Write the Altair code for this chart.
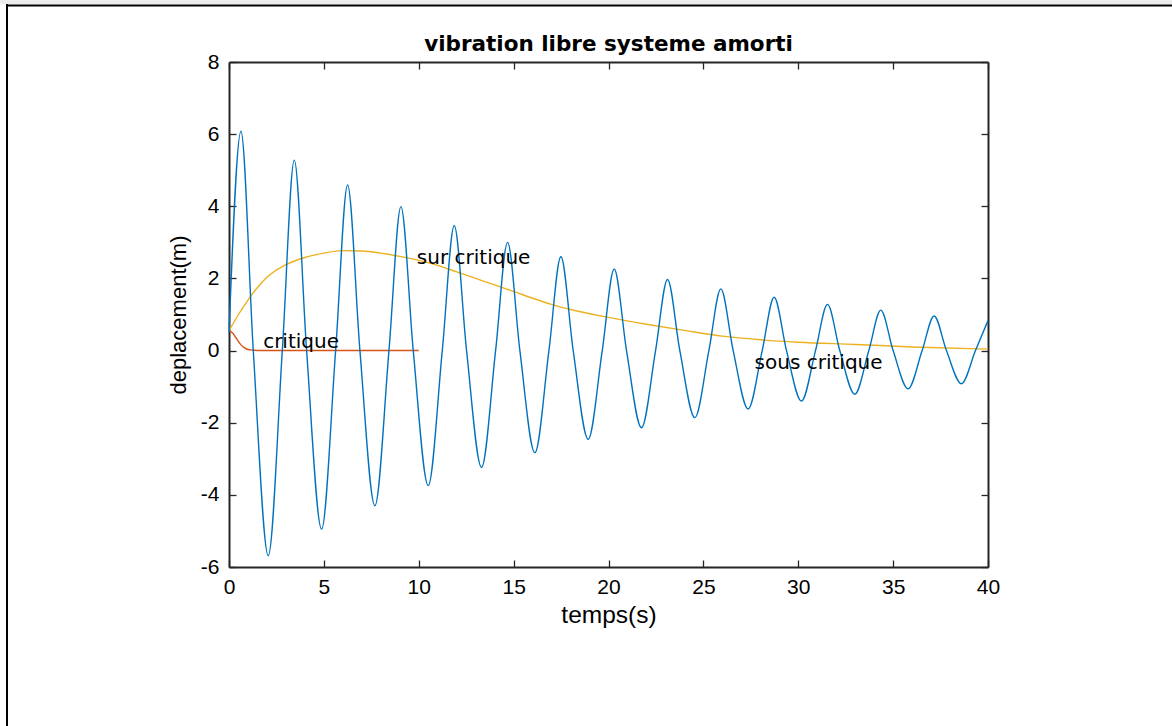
import altair as alt
import pandas as pd

# ---- data ----
# "sous critique" (under-damped): start, peaks, zero crossings, troughs, end
start_t, start_y = 0.0, 0.5
peak_t = [0.63, 3.44, 6.25, 9.06, 11.87, 14.68, 17.49, 20.30, 23.11, 25.92, 28.73, 31.54, 34.35, 37.16]
peak_y = [6.08, 5.28, 4.59, 3.99, 3.46, 3.00, 2.60, 2.26, 1.97, 1.71, 1.48, 1.28, 1.12, 0.96]
down_t = [1.28, 4.09, 6.90, 9.71, 12.52, 15.33, 18.14, 20.95, 23.76, 26.57, 29.38, 32.19, 35.00, 37.81]
trough_t = [2.07, 4.88, 7.69, 10.50, 13.31, 16.12, 18.93, 21.74, 24.55, 27.36, 30.17, 32.98, 35.79, 38.60]
trough_y = [-5.69, -4.95, -4.30, -3.74, -3.24, -2.83, -2.46, -2.14, -1.86, -1.62, -1.40, -1.21, -1.06, -0.92]
up_t = [2.81, 5.62, 8.43, 11.24, 14.05, 16.86, 19.67, 22.48, 25.29, 28.10, 30.91, 33.72, 36.53, 39.34]
end_t, end_y = 40.0, 0.83

# "sur critique" (over-damped)
sur_t = [0, 0.5, 1.0, 1.5, 2.0, 3.0, 4.0, 5.0, 6.0, 7.0, 8.0, 9.0, 10.0, 11.0, 12.0, 13.0,
         14.0, 15.0, 16.0, 17.0, 18.0, 20.0, 22.0, 24.0, 26.0, 28.0, 30.0, 33.0, 36.0, 40.0]
sur_y = [0.55, 1.0, 1.4, 1.75, 2.03, 2.38, 2.58, 2.70, 2.77, 2.76, 2.70, 2.61, 2.50, 2.36,
         2.18, 2.00, 1.82, 1.64, 1.45, 1.28, 1.14, 0.92, 0.73, 0.56, 0.40, 0.30, 0.23, 0.17,
         0.10, 0.04]

# "critique"
crit_t = [0, 0.2, 0.4, 0.6, 0.8, 1.0, 1.3, 1.7, 10.0]
crit_y = [0.55, 0.48, 0.33, 0.18, 0.08, 0.03, 0.01, 0.0, 0.0]

# annotations
ann_label = ["critique", "sur critique", "sous critique"]
ann_t = [1.8, 9.9, 27.7]
ann_y = [0.24, 2.57, -0.34]

title_text = "vibration libre systeme amorti"
x_ticks = [0, 5, 10, 15, 20, 25, 30, 35, 40]
y_ticks = [-6, -4, -2, 0, 2, 4, 6, 8]

# ---- tables ----
rows = [(start_t, start_y)]
for i in range(len(peak_t)):
    rows += [(peak_t[i], peak_y[i]), (down_t[i], 0.0), (trough_t[i], trough_y[i]), (up_t[i], 0.0)]
rows.append((end_t, end_y))
sous_df = pd.DataFrame(rows, columns=["t", "y"]).sort_values("t")
sur_df = pd.DataFrame({"t": sur_t, "y": sur_y})
crit_df = pd.DataFrame({"t": crit_t, "y": crit_y})
ann_df = pd.DataFrame({"t": ann_t, "y": ann_y, "label": ann_label})
one = pd.DataFrame({"a": [0]})
title_df = pd.DataFrame({"label": [title_text]})

AX = "#262626"
FIX_MINUS = "replace(datum.label, '\u2212', '-')"
xs = alt.Scale(domain=[0, 40], nice=False, zero=False)
ys = alt.Scale(domain=[-6, 8], nice=False, zero=False)

main_x = alt.Axis(orient="bottom", values=x_ticks, ticks=False, domain=True, domainColor=AX,
                  domainWidth=2, grid=False, labelFlush=False, labelPadding=9, labelFontSize=21,
                  title="temps(s)", titleFontSize=24.5, titlePadding=6, titleFontWeight="normal")
main_y = alt.Axis(orient="left", values=y_ticks, ticks=False, domain=True, domainColor=AX,
                  domainWidth=2, grid=False, labelPadding=10, labelFontSize=21,
                  labelExpr=FIX_MINUS, title="deplacement(m)",
                  titleFont="Liberation Sans", titleFontSize=22, titlePadding=10,
                  titleFontWeight="normal")

sous = alt.Chart(sous_df).mark_line(color="#0072BD", strokeWidth=1.4, interpolate="monotone").encode(
    x=alt.X("t:Q", scale=xs, axis=main_x),
    y=alt.Y("y:Q", scale=ys, axis=main_y),
)
sur = alt.Chart(sur_df).mark_line(color="#EDB120", strokeWidth=1.4, interpolate="monotone").encode(
    x=alt.X("t:Q", scale=xs, axis=None),
    y=alt.Y("y:Q", scale=ys, axis=None),
)
crit = alt.Chart(crit_df).mark_line(color="#D95319", strokeWidth=1.4, interpolate="monotone").encode(
    x=alt.X("t:Q", scale=xs, axis=None),
    y=alt.Y("y:Q", scale=ys, axis=None),
)
ann = alt.Chart(ann_df).mark_text(align="left", baseline="middle", font="DejaVu Sans",
                                  fontSize=20, color="black").encode(
    x=alt.X("t:Q", scale=xs, axis=None),
    y=alt.Y("y:Q", scale=ys, axis=None),
    text="label:N",
)


def tick_axis(orient, vals):
    return alt.Axis(orient=orient, offset=-7, values=vals, labels=False, domain=False,
                    ticks=True, tickSize=7, tickWidth=1.3, tickColor=AX, grid=False, title=None)


def box_axis(orient):
    return alt.Axis(orient=orient, labels=False, ticks=False, domain=True, domainColor=AX,
                    domainWidth=2, grid=False, title=None)


ticks_a = alt.Chart(sous_df).mark_point(opacity=0).encode(
    x=alt.X("t:Q", scale=xs, axis=tick_axis("bottom", x_ticks)),
    y=alt.Y("y:Q", scale=ys, axis=tick_axis("left", y_ticks)),
)
ticks_b = alt.Chart(sous_df).mark_point(opacity=0).encode(
    x=alt.X("t:Q", scale=xs, axis=tick_axis("top", x_ticks)),
    y=alt.Y("y:Q", scale=ys, axis=tick_axis("right", y_ticks)),
)
box_c = alt.Chart(sous_df).mark_point(opacity=0).encode(
    x=alt.X("t:Q", scale=xs, axis=box_axis("top")),
    y=alt.Y("y:Q", scale=ys, axis=box_axis("right")),
)

title_mark = alt.Chart(title_df).mark_text(align="center", baseline="middle", font="DejaVu Sans",
                                           fontSize=21.5, fontWeight="bold", color="black").encode(
    x=alt.value(379.5), y=alt.value(-17), text="label:N")

band = alt.Chart(one).mark_rect(color="#ececec").encode(
    x=alt.value(-229), x2=alt.value(943), y=alt.value(-62), y2=alt.value(-58))
frame_v = alt.Chart(one).mark_rule(color="black", strokeWidth=2).encode(
    x=alt.value(-222), y=alt.value(-58), y2=alt.value(700))
frame_h = alt.Chart(one).mark_rule(color="black", strokeWidth=2).encode(
    x=alt.value(-223), x2=alt.value(960), y=alt.value(-56.5))

chart = alt.layer(band, frame_v, frame_h, title_mark, sur, crit, sous, ann,
                  ticks_a, ticks_b, box_c).resolve_axis(
    x="independent", y="independent"
).properties(
    width=759,
    height=505,
    padding={"left": 229, "top": 62, "right": 184, "bottom": 159},
    autosize=alt.AutoSizeParams(type="none"),
).configure_view(
    strokeWidth=0
).configure_axis(
    labelFont="DejaVu Sans", labelColor=AX, titleFont="DejaVu Sans", titleColor=AX
).configure(background="white")

chart.save("out.html", embed_options={"renderer": "svg", "actions": False})
